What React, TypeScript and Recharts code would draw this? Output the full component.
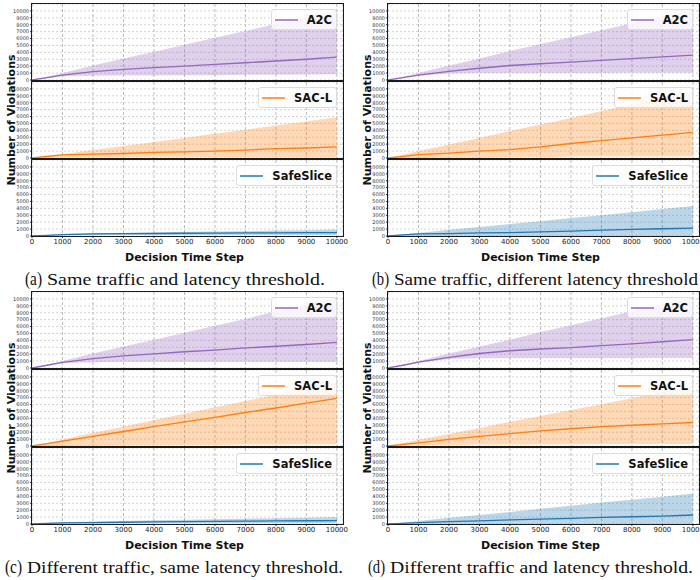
import React from 'react';
import { ComposedChart, Area, Line, XAxis, YAxis, CartesianGrid } from 'recharts';

const steps = [0, 500, 1000, 2000, 3000, 4000, 5000, 6000, 7000, 8000, 9000, 10000];
const xTicks = [0, 1000, 2000, 3000, 4000, 5000, 6000, 7000, 8000, 9000, 10000];
const yTicks = [0, 1000, 2000, 3000, 4000, 5000, 6000, 7000, 8000, 9000, 10000];

// (a) same traffic and latency threshold
const aA2cMean = [0, 350, 700, 1200, 1550, 1800, 2000, 2250, 2500, 2750, 3000, 3300];
const aA2cLo = [0, 300, 550, 600, 650, 650, 700, 700, 750, 750, 800, 850];
const aA2cHi = [0, 500, 1000, 2100, 3100, 4100, 5100, 6100, 7100, 8100, 9100, 10100];
const aSacMean = [0, 250, 450, 550, 650, 800, 900, 1000, 1150, 1350, 1450, 1600];
const aSacLo = [0, 50, 80, 80, 100, 100, 100, 100, 100, 100, 100, 100];
const aSacHi = [0, 400, 550, 1150, 1750, 2300, 2900, 3500, 4100, 4700, 5300, 5900];
const aSafeMean = [0, 100, 200, 300, 330, 360, 400, 420, 440, 460, 480, 500];
const aSafeLo = [0, 50, 100, 150, 150, 150, 150, 150, 150, 150, 150, 150];
const aSafeHi = [0, 150, 300, 400, 450, 500, 600, 650, 700, 800, 850, 950];

// (b) same traffic, different latency threshold
const bA2cMean = [0, 350, 700, 1250, 1700, 2100, 2350, 2600, 2850, 3100, 3350, 3600];
const bA2cLo = [0, 300, 600, 950, 1000, 1000, 1000, 1000, 1000, 1050, 1050, 1050];
const bA2cHi = [0, 500, 1000, 2100, 3100, 4200, 5200, 6200, 7200, 8200, 9200, 10100];
const bSacMean = [0, 250, 500, 700, 1000, 1200, 1600, 2100, 2500, 2900, 3300, 3700];
const bSacLo = [0, 0, 0, 50, 50, 100, 100, 200, 200, 200, 200, 200];
const bSacHi = [0, 500, 1000, 1950, 2900, 3900, 4850, 5800, 6800, 7750, 8700, 9700];
const bSafeMean = [0, 150, 300, 350, 450, 500, 600, 700, 850, 950, 1050, 1150];
const bSafeLo = [0, 0, 0, 0, 0, 0, 0, 0, 0, 0, 0, 0];
const bSafeHi = [0, 220, 450, 900, 1300, 1750, 2150, 2600, 3000, 3450, 3900, 4350];

// (c) different traffic, same latency threshold
const cA2cMean = [0, 400, 800, 1350, 1750, 2050, 2350, 2600, 2900, 3150, 3400, 3700];
const cA2cLo = [0, 350, 700, 850, 900, 900, 900, 900, 900, 900, 900, 900];
const cA2cHi = [0, 500, 1000, 2100, 3100, 4100, 5100, 6100, 7100, 8200, 9200, 10200];
const cSacMean = [0, 350, 700, 1400, 2100, 2800, 3500, 4150, 4850, 5500, 6200, 6900];
const cSacLo = [0, 0, 0, 50, 100, 100, 150, 150, 200, 200, 250, 250];
const cSacHi = [0, 450, 950, 1900, 2800, 3750, 4650, 5600, 6500, 7450, 8350, 9300];
const cSafeMean = [0, 80, 150, 200, 250, 300, 350, 380, 410, 440, 470, 500];
const cSafeLo = [0, 30, 60, 80, 100, 100, 100, 100, 100, 100, 100, 100];
const cSafeHi = [0, 150, 250, 350, 450, 550, 600, 700, 750, 850, 900, 1000];

// (d) different traffic and latency threshold
const dA2cMean = [0, 400, 850, 1550, 2100, 2500, 2750, 2950, 3250, 3500, 3800, 4100];
const dA2cLo = [0, 350, 750, 1300, 1400, 1400, 1400, 1400, 1400, 1400, 1450, 1450];
const dA2cHi = [0, 500, 1000, 2100, 3100, 4100, 5200, 6200, 7200, 8200, 9200, 10200];
const dSacMean = [0, 250, 450, 950, 1400, 1800, 2200, 2500, 2800, 3000, 3200, 3400];
const dSacLo = [0, 50, 100, 150, 200, 200, 250, 250, 300, 300, 300, 300];
const dSacHi = [0, 450, 900, 1750, 2600, 3500, 4350, 5200, 6050, 6900, 7800, 8700];
const dSafeMean = [0, 100, 200, 350, 450, 600, 700, 800, 950, 1050, 1150, 1300];
const dSafeLo = [0, 0, 0, 0, 0, 0, 0, 0, 0, 0, 0, 0];
const dSafeHi = [0, 220, 450, 900, 1300, 1750, 2200, 2650, 3100, 3500, 3950, 4400];

const COLORS: Record<string, string> = {
  A2C: '#9467bd',
  'SAC-L': '#ff7f0e',
  SafeSlice: '#1f77b4',
};

const Y_W = 32;
const PLOT_W = 311;
const PLOT_H = 76;
const GAP = 78;
const SANS = 'DejaVu Sans, Verdana, sans-serif';
const SERIF = 'Liberation Serif, Times New Roman, serif';

interface SubProps {
  name: string;
  mean: number[];
  lo: number[];
  hi: number[];
  left: number;
  top: number;
  bottom?: boolean;
}

const SubPlot: React.FC<SubProps> = ({ name, mean, lo, hi, left, top, bottom }) => {
  const color = COLORS[name];
  const rows = steps.map((s, i) => ({ step: s, mean: mean[i], band: [lo[i], hi[i]] }));
  return (
    <div style={{ position: 'absolute', left: left - Y_W, top: top - 4 }}>
      <ComposedChart
        width={Y_W + PLOT_W + 12}
        height={PLOT_H + 4 + (bottom ? 14 : 4)}
        data={rows}
        margin={{ top: 4, right: 12, bottom: bottom ? 0 : 4, left: 0 }}
      >
        <Area dataKey="band" stroke="none" fill={color} fillOpacity={0.3} isAnimationActive={false} />
        <CartesianGrid horizontal vertical={false} stroke="#d2d2d2" strokeDasharray="2 2" />
        <CartesianGrid horizontal={false} vertical stroke="#bcbcbc" strokeDasharray="3 2" />
        <XAxis
          type="number"
          dataKey="step"
          domain={[0, 10200]}
          ticks={xTicks}
          interval={0}
          hide={!bottom}
          height={14}
          allowDataOverflow
          axisLine={false}
          tickSize={2}
          tickMargin={1}
          tickLine={{ stroke: '#333' }}
          tick={{ fontSize: 7, fill: '#222', fontFamily: SANS }}
        />
        <YAxis
          type="number"
          domain={[0, 11000]}
          ticks={yTicks}
          interval={0}
          width={Y_W}
          allowDataOverflow
          axisLine={false}
          tickSize={2}
          tickMargin={1}
          tickLine={{ stroke: '#333' }}
          tick={{ fontSize: 5, fill: '#333', fontFamily: SANS }}
        />
        <Line dataKey="mean" stroke={color} strokeWidth={1.3} dot={false} isAnimationActive={false} />
      </ComposedChart>
      <div
        style={{
          position: 'absolute',
          left: Y_W - 1,
          top: 3,
          width: PLOT_W + 2,
          height: PLOT_H + 2,
          border: '1.7px solid #1a1a1a',
          boxSizing: 'border-box',
          pointerEvents: 'none',
        }}
      />
      <div
        style={{
          position: 'absolute',
          right: 12 + 6,
          top: 4 + 5,
          height: 21,
          display: 'flex',
          alignItems: 'center',
          padding: '0 4px 0 3px',
          background: 'rgba(255,255,255,0.8)',
          border: '1px solid #dcdcdc',
          borderRadius: 3,
          boxSizing: 'border-box',
        }}
      >
        <svg width={23} height={4} style={{ marginRight: 9, display: 'block' }}>
          <line x1={0} y1={2} x2={23} y2={2} stroke={color} strokeWidth={1.5} />
        </svg>
        <span style={{ fontFamily: SANS, fontWeight: 'bold', fontSize: 11.5, color: '#111' }}>{name}</span>
      </div>
    </div>
  );
};

interface PanelProps {
  left: number;
  top: number;
  tag: string;
  a2c: number[][];
  sac: number[][];
  safe: number[][];
}

const Panel: React.FC<PanelProps> = ({ left, top, a2c, sac, safe }) => (
  <>
    <SubPlot name="A2C" mean={a2c[0]} lo={a2c[1]} hi={a2c[2]} left={left} top={top} />
    <SubPlot name="SAC-L" mean={sac[0]} lo={sac[1]} hi={sac[2]} left={left} top={top + GAP} />
    <SubPlot name="SafeSlice" mean={safe[0]} lo={safe[1]} hi={safe[2]} left={left} top={top + 2 * GAP} bottom />
  </>
);

// tagX / textX / textLen: where each sub-figure caption sits
const panels = [
  { left: 32, top: 4, tag: '(a)', tagX: 25, textX: 47, textLen: 278, caption: 'Same traffic and latency threshold.', a2c: [aA2cMean, aA2cLo, aA2cHi], sac: [aSacMean, aSacLo, aSacHi], safe: [aSafeMean, aSafeLo, aSafeHi] },
  { left: 388, top: 4, tag: '(b)', tagX: 372, textX: 394, textLen: 304, caption: 'Same traffic, different latency threshold', a2c: [bA2cMean, bA2cLo, bA2cHi], sac: [bSacMean, bSacLo, bSacHi], safe: [bSafeMean, bSafeLo, bSafeHi] },
  { left: 32, top: 292, tag: '(c)', tagX: 5, textX: 27, textLen: 316, caption: 'Different traffic, same latency threshold.', a2c: [cA2cMean, cA2cLo, cA2cHi], sac: [cSacMean, cSacLo, cSacHi], safe: [cSafeMean, cSafeLo, cSafeHi] },
  { left: 388, top: 292, tag: '(d)', tagX: 368, textX: 390, textLen: 303, caption: 'Different traffic and latency threshold.', a2c: [dA2cMean, dA2cLo, dA2cHi], sac: [dSacMean, dSacLo, dSacHi], safe: [dSafeMean, dSafeLo, dSafeHi] },
];

export default function App() {
  return (
    <div style={{ position: 'fixed', left: 0, top: 0, width: 700, height: 580, overflow: 'hidden', background: '#fff' }}>
      {panels.map((p) => (
        <Panel key={p.tag} left={p.left} top={p.top} tag={p.tag} a2c={p.a2c} sac={p.sac} safe={p.safe} />
      ))}
      <svg width={700} height={580} style={{ position: 'absolute', left: 0, top: 0, pointerEvents: 'none' }}>
        {panels.map((p) => {
          const cx = p.left + PLOT_W / 2 - 3;
          const midY = p.top + GAP + PLOT_H / 2;
          const yl = p.left - 21;
          const base = p.top + 281;
          return (
            <g key={p.tag}>
              <text
                x={yl}
                y={midY}
                transform={`rotate(-90, ${yl}, ${midY})`}
                textAnchor="middle"
                dominantBaseline="central"
                fontFamily={SANS}
                fontWeight="bold"
                fontSize={11}
                fill="#111"
              >
                Number of Violations
              </text>
              <text x={cx} y={p.top + 257} textAnchor="middle" fontFamily={SANS} fontWeight="bold" fontSize={11} fill="#111">
                Decision Time Step
              </text>
              <text x={p.tagX} y={base} fontFamily={SERIF} fontSize={19} textLength={17} lengthAdjust="spacingAndGlyphs" fill="#111">
                {p.tag}
              </text>
              <text x={p.textX} y={base} fontFamily={SERIF} fontSize={17} textLength={p.textLen} lengthAdjust="spacingAndGlyphs" fill="#111">
                {p.caption}
              </text>
            </g>
          );
        })}
      </svg>
    </div>
  );
}
